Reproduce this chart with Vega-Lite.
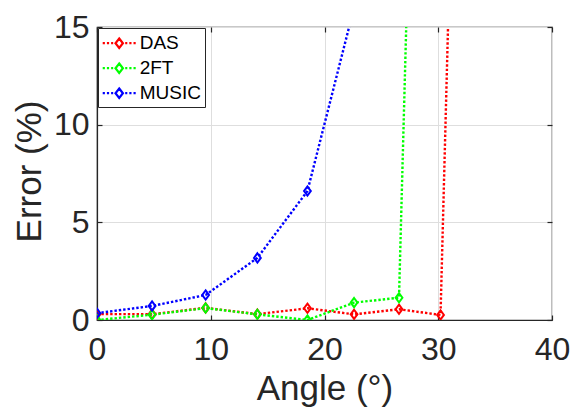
{
  "$schema": "https://vega.github.io/schema/vega-lite/v6.json",
  "autosize": "none",
  "width": 455,
  "height": 293,
  "padding": {"left": 97, "top": 27, "right": 20, "bottom": 90},
  "background": "white",
  "config": {
    "view": {"stroke": "#262626", "strokeWidth": 1.2},
    "font": "Liberation Sans",
    "axis": {
      "labelFont": "Liberation Sans",
      "titleFont": "Liberation Sans",
      "labelColor": "#262626",
      "titleColor": "#262626",
      "labelFontSize": 32,
      "titleFontSize": 35,
      "titleFontWeight": "normal",
      "labelFlush": false,
      "labelOverlap": false,
      "domainColor": "#262626",
      "domainWidth": 1.2,
      "tickColor": "#262626",
      "tickWidth": 1.2,
      "tickSize": -5,
      "gridColor": "#dedede",
      "gridWidth": 1
    }
  },
  "data": {
    "values": [
      {"angle": 0, "method": "DAS", "error": 0.3},
      {"angle": 4.84, "method": "DAS", "error": 0.3},
      {"angle": 9.55, "method": "DAS", "error": 0.62},
      {"angle": 14.1, "method": "DAS", "error": 0.3},
      {"angle": 18.5, "method": "DAS", "error": 0.6},
      {"angle": 22.6, "method": "DAS", "error": 0.29},
      {"angle": 26.55, "method": "DAS", "error": 0.55},
      {"angle": 30.2, "method": "DAS", "error": 0.26},
      {"angle": 33.9, "method": "DAS", "error": 83},
      {"angle": 0, "method": "2FT", "error": 0},
      {"angle": 4.84, "method": "2FT", "error": 0.27},
      {"angle": 9.55, "method": "2FT", "error": 0.61},
      {"angle": 14.1, "method": "2FT", "error": 0.29},
      {"angle": 18.5, "method": "2FT", "error": 0},
      {"angle": 22.6, "method": "2FT", "error": 0.89},
      {"angle": 26.55, "method": "2FT", "error": 1.14},
      {"angle": 30.2, "method": "2FT", "error": 81},
      {"angle": 0, "method": "MUSIC", "error": 0.35},
      {"angle": 4.84, "method": "MUSIC", "error": 0.72},
      {"angle": 9.55, "method": "MUSIC", "error": 1.28},
      {"angle": 14.1, "method": "MUSIC", "error": 3.18},
      {"angle": 18.5, "method": "MUSIC", "error": 6.6},
      {"angle": 22.6, "method": "MUSIC", "error": 16.0},
      {"angle": 26.55, "method": "MUSIC", "error": 40}
    ]
  },
  "layer": [
    {
      "mark": {"type": "line", "strokeDash": [2.4, 2], "strokeWidth": 2.4, "clip": true},
      "encoding": {
        "x": {
          "field": "angle", "type": "quantitative",
          "scale": {"domain": [0, 40], "nice": false},
          "axis": {"orient": "bottom", "values": [0, 10, 20, 30, 40], "grid": true, "labelPadding": 19,
                   "title": "Angle (°)", "titleBaseline": "alphabetic", "titleY": 79, "titleX": 227.5, "titleAnchor": "middle"}
        },
        "y": {
          "field": "error", "type": "quantitative",
          "scale": {"domain": [0, 15], "nice": false},
          "axis": {"orient": "left", "values": [0, 5, 10, 15], "grid": true, "labelPadding": 13,
                   "title": "Error (%)", "titleAngle": -90, "titleBaseline": "alphabetic", "titleAlign": "center",
                   "titleX": -57, "titleY": 144}
        },
        "color": {
          "field": "method", "type": "nominal",
          "scale": {"domain": ["DAS", "2FT", "MUSIC"], "range": ["#ff0000", "#00ff00", "#0000ff"]},
          "legend": {
            "title": null, "orient": "none", "legendX": 1, "legendY": 1, "direction": "vertical",
            "symbolType": "M-1.65,0L-1.43,0M-1.23,0L-1.01,0M-0.81,0L-0.6,0M0.6,0L0.81,0M1.01,0L1.23,0M1.43,0L1.65,0M0,-0.47L0.37,0L0,0.47L-0.37,0Z",
            "symbolSize": 400, "symbolStrokeWidth": 2.2, "symbolDash": [], "symbolFillColor": "transparent",
            "labelFont": "Liberation Sans", "labelFontSize": 19, "labelColor": "#000000",
            "labelOffset": 9, "rowPadding": 3, "padding": 3.7, "symbolOffset": 6,
            "strokeColor": "#262626", "fillColor": "white", "labelLimit": 200
          }
        }
      }
    },
    {
      "mark": {"type": "point", "shape": "M0,-1.15L0.85,0L0,1.15L-0.85,0Z", "filled": false, "strokeWidth": 2, "size": 64, "clip": true, "opacity": 1},
      "encoding": {
        "x": {
          "field": "angle", "type": "quantitative",
          "scale": {"domain": [0, 40], "nice": false},
          "axis": {"orient": "top", "values": [0, 10, 20, 30, 40], "grid": false, "labels": false, "title": null, "domain": false}
        },
        "y": {
          "field": "error", "type": "quantitative",
          "scale": {"domain": [0, 15], "nice": false},
          "axis": {"orient": "right", "values": [0, 5, 10, 15], "grid": false, "labels": false, "title": null, "domain": false}
        },
        "stroke": {
          "field": "method", "type": "nominal",
          "scale": {"domain": ["DAS", "2FT", "MUSIC"], "range": ["#ff0000", "#00ff00", "#0000ff"]},
          "legend": null
        }
      }
    }
  ],
  "resolve": {"axis": {"x": "independent", "y": "independent"}}
}
